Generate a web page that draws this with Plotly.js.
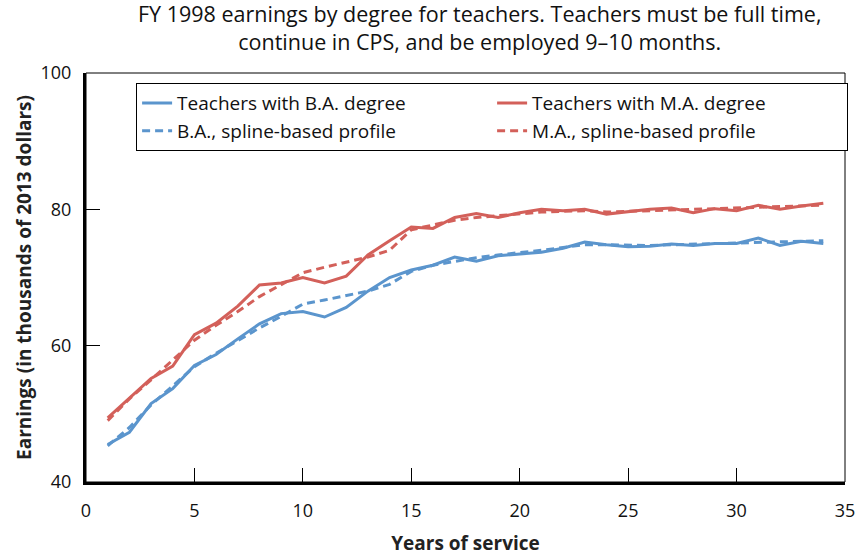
<!DOCTYPE html>
<html>
<head>
<meta charset="utf-8">
<script src="https://cdn.plot.ly/plotly-3.0.1.min.js"></script>
<style>html,body{margin:0;padding:0;background:#fff;}#chart{width:862px;height:556px;}</style>
</head>
<body>
<div id="chart"></div>
<script>
var years = [1,2,3,4,5,6,7,8,9,10,11,12,13,14,15,16,17,18,19,20,21,22,23,24,25,26,27,28,29,30,31,32,33,34];
var baActual = [45.5,47.3,51.5,53.7,57.1,58.7,61.0,63.2,64.7,65.0,64.2,65.6,68.0,70.0,71.1,71.8,73.0,72.4,73.2,73.4,73.7,74.3,75.2,74.8,74.5,74.6,74.9,74.7,75.0,75.0,75.8,74.7,75.3,75.0];
var maActual = [49.4,52.3,55.2,57.0,61.6,63.3,65.8,68.9,69.2,70.0,69.2,70.2,73.3,75.4,77.4,77.2,78.8,79.4,78.8,79.5,80.0,79.8,80.0,79.3,79.7,80.0,80.2,79.5,80.1,79.8,80.6,80.0,80.5,80.9];
var baSpline = [45.3,48.0,51.3,54.1,56.9,58.9,60.8,62.6,64.3,66.1,66.7,67.3,68.0,69.0,70.9,71.8,72.4,72.9,73.3,73.6,74.0,74.4,74.8,74.8,74.7,74.7,74.8,74.9,75.0,75.1,75.2,75.2,75.3,75.4];
var maSpline = [49.0,52.2,55.0,57.9,60.8,63.0,65.0,67.2,69.0,70.7,71.5,72.2,73.0,74.0,77.0,77.7,78.4,78.8,79.1,79.4,79.6,79.7,79.8,79.6,79.7,79.8,79.9,80.0,80.1,80.2,80.3,80.4,80.5,80.6];

var seriesNames = ["Teachers with B.A. degree","Teachers with M.A. degree","B.A., spline-based profile","M.A., spline-based profile"];
var xTicks = [0,5,10,15,20,25,30,35];
var yTicks = [40,60,80,100];
var titleText = "FY 1998 earnings by degree for teachers. Teachers must be full time,<br>continue in CPS, and be employed 9–10 months.";
var blue = "#5b95cd", red = "#d3605a";
var FONT = "Open Sans, Noto Sans, sans-serif";

var traces = [
  {x: years, y: baActual, name: seriesNames[0], mode: "lines", line: {color: blue, width: 3}},
  {x: years, y: maActual, name: seriesNames[1], mode: "lines", line: {color: red, width: 3}},
  {x: years, y: baSpline, name: seriesNames[2], mode: "lines", line: {color: blue, width: 3, dash: "8px,5px"}},
  {x: years, y: maSpline, name: seriesNames[3], mode: "lines", line: {color: red, width: 3, dash: "8px,5px"}}
];

var layout = {
  width: 862, height: 556,
  margin: {l: 86, r: 17, t: 73, b: 74},
  paper_bgcolor: "#fff", plot_bgcolor: "#fff",
  font: {family: FONT, size: 18, color: "#000"},
  annotations: [{text: titleText, xref: "paper", yref: "paper", x: 0.519, y: 1.187, xanchor: "center", yanchor: "top",
                 showarrow: false, align: "center", font: {family: FONT, size: 21.5, color: "#111"}}],
  xaxis: {range: [0, 35], tickvals: xTicks, ticks: "inside", ticklen: 14, tickwidth: 1, tickcolor: "#000",
          showline: true, linewidth: 3, linecolor: "#000", showgrid: false, zeroline: false, ticklabelstandoff: 10,
          tickfont: {family: FONT, size: 18, color: "#111"},
          title: {text: "<b>Years of service</b>", font: {family: FONT, size: 19, color: "#222"}, standoff: 20}},
  yaxis: {range: [40, 100], tickvals: yTicks, ticks: "inside", ticklen: 14, tickwidth: 1, tickcolor: "#000",
          showline: true, linewidth: 3, linecolor: "#000", showgrid: false, zeroline: false, ticklabelstandoff: 8,
          tickfont: {family: FONT, size: 18, color: "#111"},
          title: {text: "<b>Earnings (in thousands of 2013 dollars)</b>", font: {family: FONT, size: 19, color: "#222"}, standoff: 4}},
  shapes: [{type: "rect", xref: "paper", yref: "paper", x0: 0, x1: 1, y0: 0, y1: 1, line: {color: "#000", width: 1}}],
  showlegend: true,
  legend: {orientation: "h", x: 0.066, xanchor: "left", y: 0.975, yanchor: "top", bgcolor: "#fff",
           bordercolor: "#000", borderwidth: 1, entrywidth: 310, tracegroupgap: 0,
           font: {family: FONT, size: 19, color: "#111"}}
};

Plotly.newPlot("chart", traces, layout, {displayModeBar: false, staticPlot: true});
</script>
</body>
</html>
